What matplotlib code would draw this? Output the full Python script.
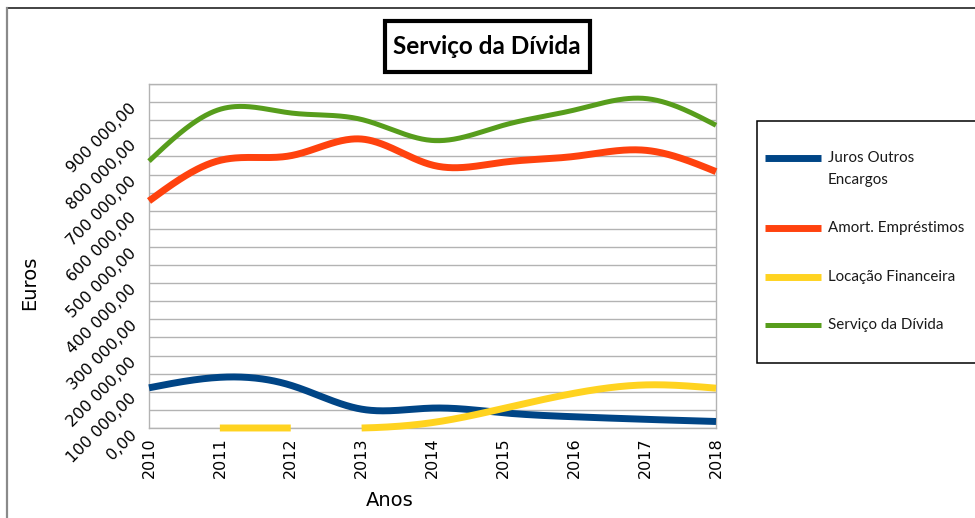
import numpy as np
import matplotlib
matplotlib.use("Agg")
import matplotlib.pyplot as plt
from matplotlib.patches import Rectangle
from matplotlib.lines import Line2D
from matplotlib.transforms import ScaledTranslation

# ---------------- data ----------------
years = ["2010", "2011", "2012", "2013", "2014", "2015", "2016", "2017", "2018"]
juros = [111000, 140000, 118000, 52000, 55000, 42000, 31000, 24000, 18000]
amort = [627000, 739000, 752000, 798000, 726000, 734000, 750000, 767000, 708000]
locacao = [0, 0, 0, 0, 15000, 54000, 96000, 119000, 110000]
servico = [737000, 880000, 870000, 852000, 794000, 836000, 878000, 910000, 836000]
series_names = ["Juros Outros\nEncargos", "Amort. Empréstimos", "Locação Financeira", "Serviço da Dívida"]
y_ticks = list(range(0, 950001, 50000))
y_max = 950000
title = "Serviço da Dívida"
x_title = "Anos"
y_title = "Euros"

colors = ["#004586", "#ff420e", "#ffd320", "#579d1c"]
widths = [5.0, 5.0, 5.0, 3.6]

W, H = 975, 518
fig = plt.figure(figsize=(W / 100, H / 100), dpi=100)
fig.patch.set_facecolor("white")


def fx(x):
    return x / W


def fy(y):
    return 1 - y / H


L, R, T, B = 149, 716, 84, 428
ax = fig.add_axes([fx(L), fy(B), (R - L) / W, (B - T) / H])


def natural_spline(y, n=60):
    y = np.asarray(y, dtype=float)
    m = len(y)
    x = np.arange(m, dtype=float)
    A = np.zeros((m, m))
    rhs = np.zeros(m)
    A[0, 0] = 1
    A[-1, -1] = 1
    for i in range(1, m - 1):
        A[i, i - 1] = 1
        A[i, i] = 4
        A[i, i + 1] = 1
        rhs[i] = 6 * (y[i + 1] - 2 * y[i] + y[i - 1])
    M = np.linalg.solve(A, rhs)
    xs, ys = [], []
    for i in range(m - 1):
        t = np.linspace(0, 1, n, endpoint=(i == m - 2))
        a = 1 - t
        v = a * y[i] + t * y[i + 1] + ((a ** 3 - a) * M[i] + (t ** 3 - t) * M[i + 1]) / 6
        xs.append(x[i] + t)
        ys.append(v)
    return np.concatenate(xs), np.concatenate(ys)


all_series = [juros, amort, locacao, servico]
handles = []
for vals, c, lw in zip(all_series, colors, widths):
    xs, ys = natural_spline(vals)
    ys = np.where(ys < -1.0, np.nan, ys)
    ln, = ax.plot(xs, ys, color=c, lw=lw, solid_capstyle="butt",
                  solid_joinstyle="round", clip_on=False, zorder=3)
    handles.append(ln)

ax.set_xlim(0, len(years) - 1)
ax.set_ylim(0, y_max)
ax.set_xticks(range(len(years)))
ax.set_xticklabels(years, rotation=90, fontsize=11.5, family="DejaVu Sans")


def fmt(v):
    return f"{v:,.2f}".replace(",", " ").replace(".", ",")


ax.set_yticks(y_ticks)
ax.set_yticklabels([fmt(v) if v % 100000 == 0 else "" for v in y_ticks],
                   fontsize=11.5, family="DejaVu Sans")
ax.tick_params(axis="both", length=0)
ax.tick_params(axis="x", pad=7)
ax.tick_params(axis="y", pad=10.5)
for lab in ax.get_yticklabels():
    lab.set_rotation(45)
    lab.set_rotation_mode("anchor")
    lab.set_ha("right")
    lab.set_va("center")
    lab.set_transform(lab.get_transform() + ScaledTranslation(0, -4 / 100, fig.dpi_scale_trans))

ax.grid(axis="y", color="#b3b3b3", lw=1.0)
ax.set_axisbelow(True)
for s in ax.spines.values():
    s.set_color("#b3b3b3")
    s.set_linewidth(1.0)

fig.text(fx(30), fy(283), y_title, rotation=90, ha="center", va="center",
         fontsize=14, family="DejaVu Sans")
fig.text(fx(390), fy(500), x_title, ha="center", va="center",
         fontsize=14, family="DejaVu Sans")

# outer border
fig.add_artist(Line2D([fx(7), fx(W + 5)], [fy(8), fy(8)], color="#222222", lw=1.2))
fig.add_artist(Line2D([fx(7), fx(7)], [fy(8), fy(H + 5)], color="#8a8a8a", lw=1.6))

# title box
fig.add_artist(Rectangle((fx(385), fy(72)), fx(590) - fx(385), fy(21) - fy(72),
                         facecolor="white", edgecolor="black", lw=3.0))
fig.text(fx(487), fy(47), title, ha="center", va="center", fontsize=17.5,
         fontweight="bold", family="Lato")

# legend
fig.add_artist(Rectangle((fx(757), fy(363)), fx(W + 5) - fx(757), fy(121) - fy(363),
                         facecolor="white", edgecolor="black", lw=1.1))
leg_y = [158, 228, 277, 325]
for h, name, yy in zip(handles, series_names, leg_y):
    fig.add_artist(Line2D([fx(765), fx(821)], [fy(yy), fy(yy)], color=h.get_color(),
                          lw=h.get_linewidth(), solid_capstyle="butt"))
    for k, line in enumerate(name.split("\n")):
        fig.text(fx(828), fy(yy + 22 * k), line, ha="left", va="center",
                 fontsize=10.9, family="Lato", color="#1a1a1a")

fig.savefig("out.png", dpi=100, facecolor="white")
